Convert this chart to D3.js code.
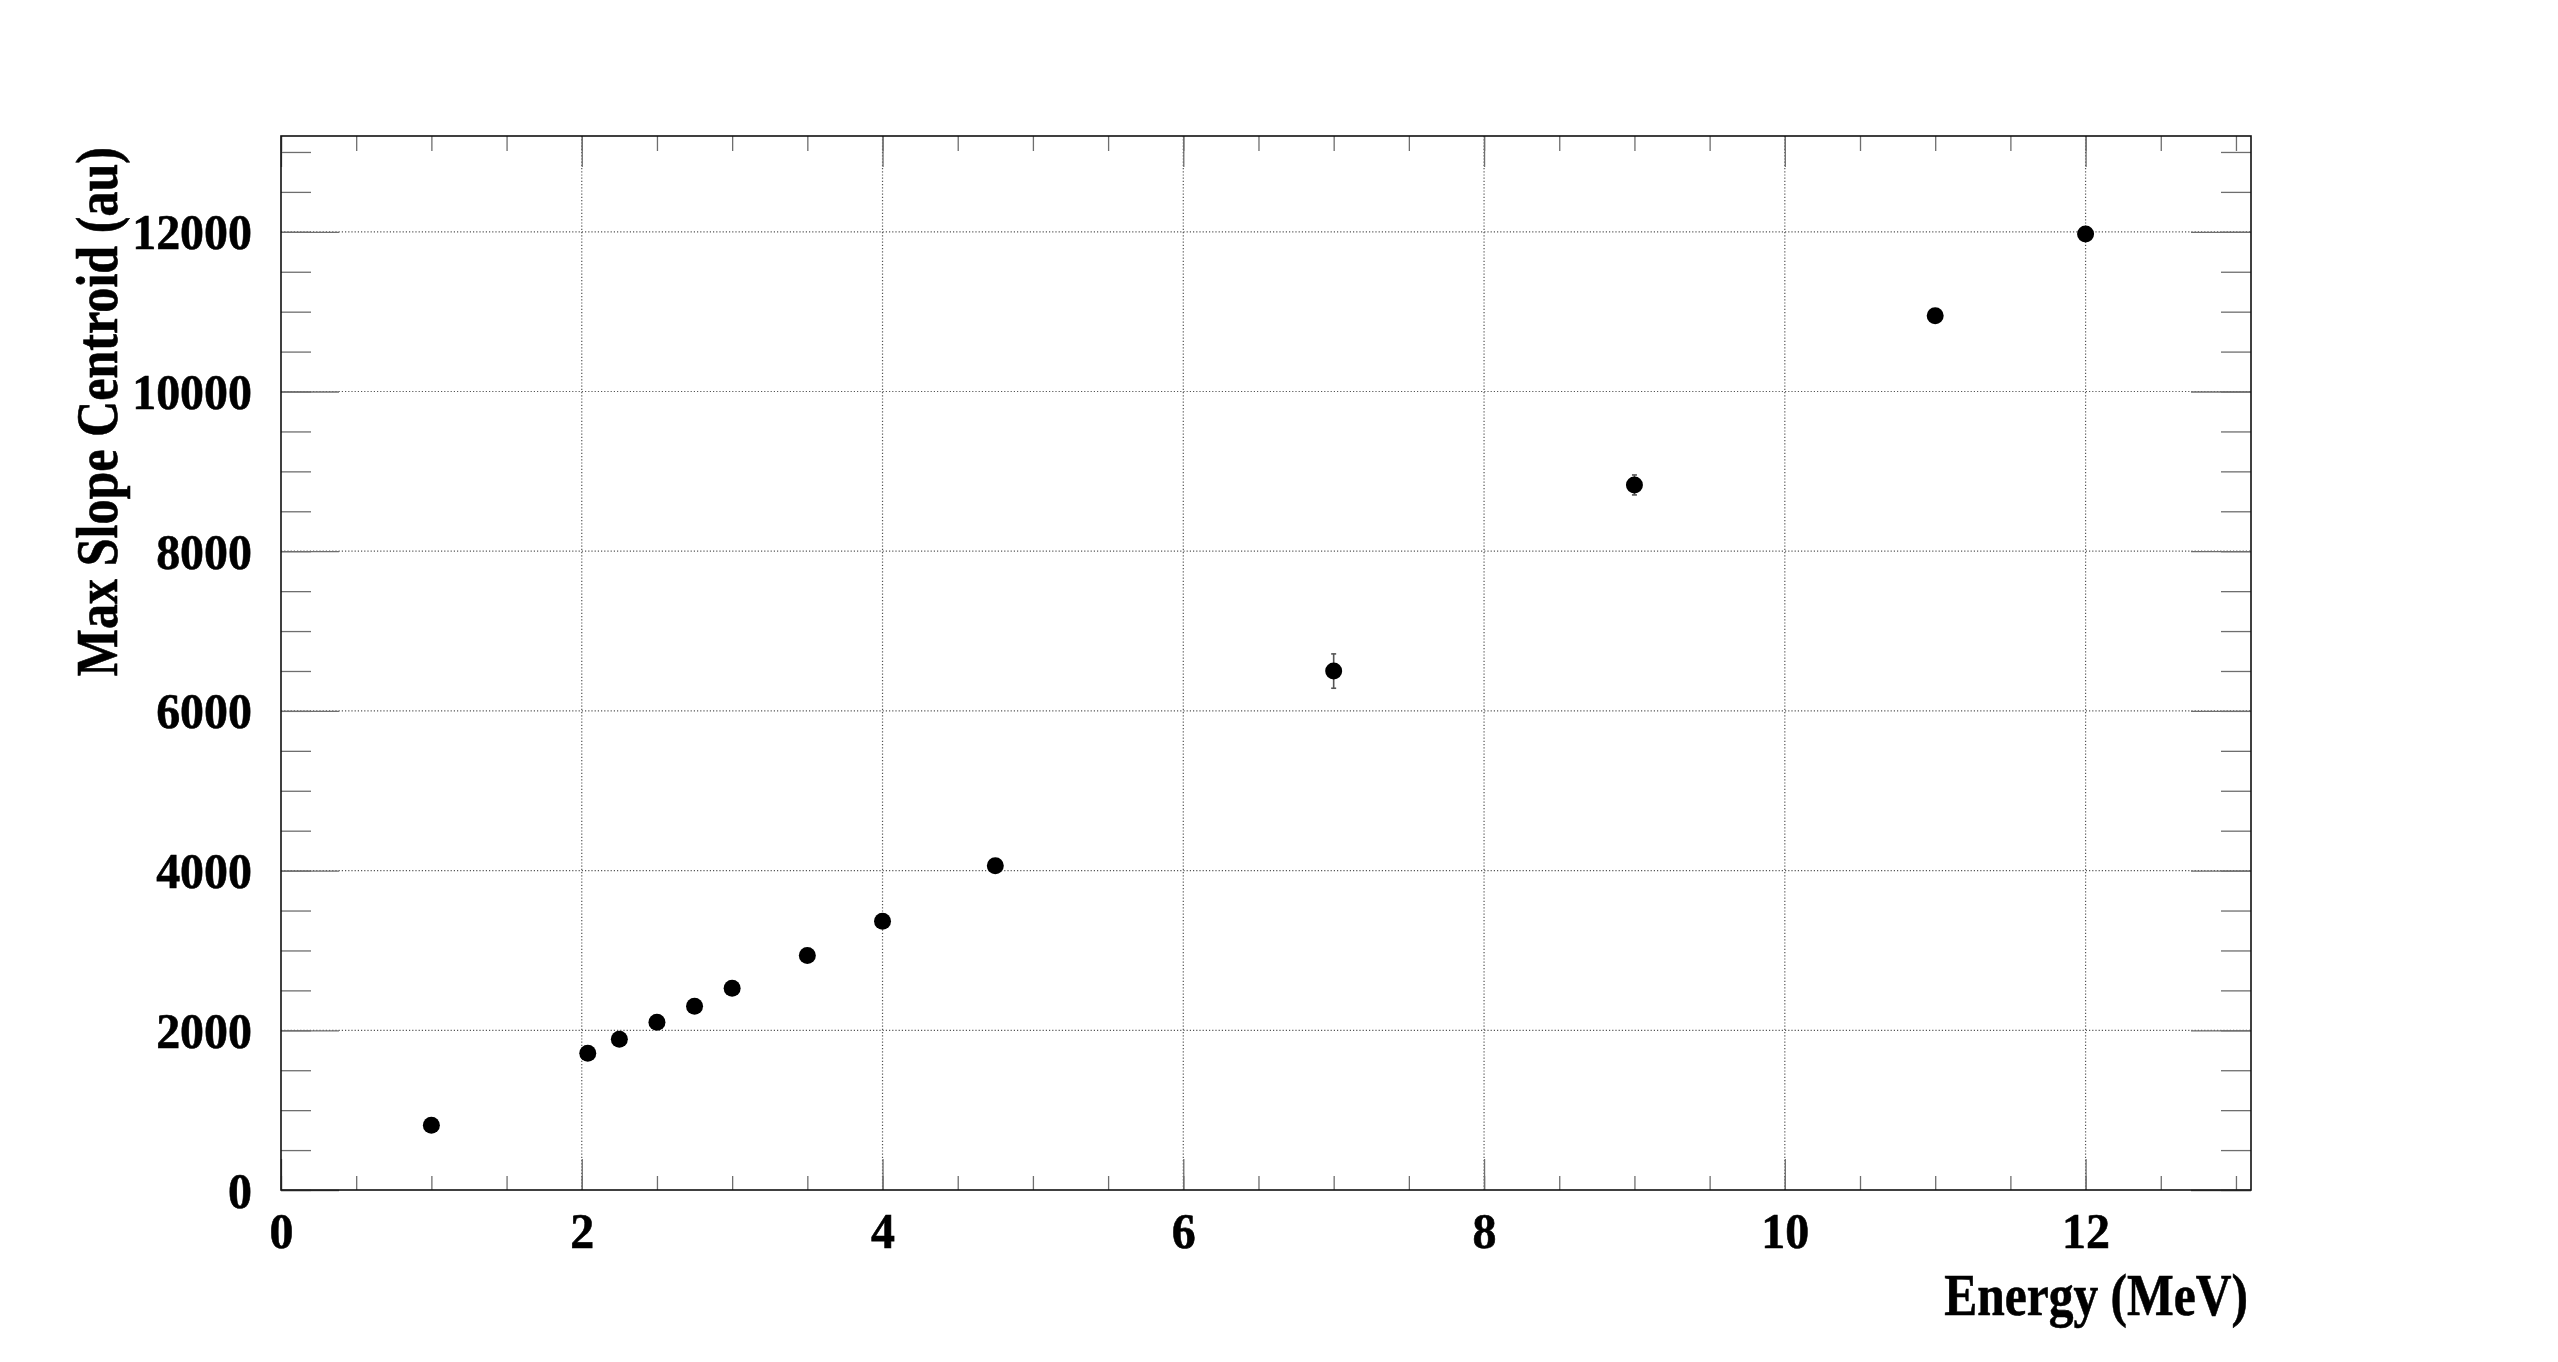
<!DOCTYPE html>
<html>
<head>
<meta charset="utf-8">
<script src="https://cdn.jsdelivr.net/npm/d3@7"></script>
<style>
  body { margin: 0; background: #fff; }
  text { font-family: "Liberation Serif", "Times New Roman", serif; font-weight: bold; fill: #000; stroke: #000; stroke-width: 0.6; }
</style>
</head>
<body>
<script>
// Données du graphique
const energies  = [1, 2.04, 2.25, 2.5, 2.75, 3, 3.5, 4, 4.75, 7, 9, 11, 12];
const centroids = [810, 1712, 1887, 2100, 2302, 2527, 2936, 3366, 4060, 6499, 8830, 10950, 11972];
const errors    = [30, 30, 30, 30, 30, 30, 40, 40, 50, 215, 125, 60, 60];
const xTicks = [0, 2, 4, 6, 8, 10, 12];
const yTicks = [0, 2000, 4000, 6000, 8000, 10000, 12000];
const xMinor = d3.range(0, 13.01, 0.5);
const yMinor = d3.range(0, 13001, 500);

const data = energies.map((e, i) => ({ x: e, y: centroids[i], err: errors[i] }));

// Dimensions (fenêtre 2558x1362)
const W = 2558, H = 1362;
const margin = { top: 136, right: 307, bottom: 172, left: 281 },
      width = W - margin.left - margin.right,
      height = H - margin.top - margin.bottom;

const sx = 0.94; // largeur des chiffres

const svg = d3.select("body").append("svg")
    .attr("width", W)
    .attr("height", H)
    .append("g")
    .attr("transform", `translate(${margin.left},${margin.top})`);

// Échelles
const x = d3.scaleLinear().domain([0, 13.1]).range([0, width]);
const y = d3.scaleLinear().domain([0, 13200]).range([height, 0]);

// Grille pointillée
svg.append("g").selectAll("line")
    .data(xTicks.filter(d => d > 0))
    .enter().append("line")
    .attr("x1", d => x(d)).attr("x2", d => x(d))
    .attr("y1", 0).attr("y2", height)
    .attr("stroke", "#555").attr("stroke-width", 1.2)
    .attr("stroke-dasharray", "1.2,2");

svg.append("g").selectAll("line")
    .data(yTicks.filter(d => d > 0))
    .enter().append("line")
    .attr("x1", 0).attr("x2", width)
    .attr("y1", d => y(d)).attr("y2", d => y(d))
    .attr("stroke", "#555").attr("stroke-width", 1.2)
    .attr("stroke-dasharray", "1.2,2");

// Graduations (sur les quatre côtés)
function ticks(axis, transform) {
    const g = svg.append("g").attr("transform", transform).call(axis);
    g.select(".domain").remove();
    g.selectAll(".tick line").attr("stroke", "#6e6e6e").attr("stroke-width", 1.3);
    return g;
}

ticks(d3.axisBottom(x).tickValues(xMinor).tickSize(-14).tickFormat(""), `translate(0,${height})`);
ticks(d3.axisTop(x).tickValues(xMinor).tickSize(-15).tickFormat(""), "translate(0,0)");
ticks(d3.axisTop(x).tickValues(xTicks).tickSize(-31).tickFormat(""), "translate(0,0)");
ticks(d3.axisLeft(y).tickValues(yMinor).tickSize(-30).tickFormat(""), "translate(0,0)");
ticks(d3.axisRight(y).tickValues(yMinor).tickSize(-30).tickFormat(""), `translate(${width},0)`);
ticks(d3.axisRight(y).tickValues(yTicks).tickSize(-60).tickFormat(""), `translate(${width},0)`);

const xAxis = ticks(d3.axisBottom(x).tickValues(xTicks).tickSize(-31).tickFormat(d3.format("d")),
    `translate(0,${height})`);
xAxis.selectAll("text")
    .attr("y", 58).attr("dy", null)
    .attr("font-size", 51)
    .attr("transform", `scale(${sx},1)`);

const yAxis = ticks(d3.axisLeft(y).tickValues(yTicks).tickSize(-58).tickFormat(d3.format("d")),
    "translate(0,0)");
yAxis.selectAll("text")
    .attr("x", 0).attr("dy", null).attr("y", 17)
    .attr("font-size", 51)
    .attr("transform", `translate(-29,0) scale(${sx},1)`);

// Cadre
svg.append("rect")
    .attr("width", width).attr("height", height)
    .attr("fill", "none").attr("stroke", "#111").attr("stroke-width", 1.6);

// Barres d'erreur
const eb = svg.append("g").attr("stroke", "#555").attr("stroke-width", 1.6);
eb.selectAll(".ebar")
    .data(data)
    .enter().append("line")
    .attr("class", "ebar")
    .attr("x1", d => x(d.x)).attr("x2", d => x(d.x))
    .attr("y1", d => y(d.y - d.err)).attr("y2", d => y(d.y + d.err));
eb.selectAll(".cap")
    .data(data.flatMap(d => [{ x: d.x, y: d.y - d.err }, { x: d.x, y: d.y + d.err }]))
    .enter().append("line")
    .attr("class", "cap")
    .attr("x1", d => x(d.x) - 2.5).attr("x2", d => x(d.x) + 2.5)
    .attr("y1", d => y(d.y)).attr("y2", d => y(d.y));

// Points
svg.selectAll(".pt")
    .data(data)
    .enter().append("circle")
    .attr("class", "pt")
    .attr("cx", d => x(d.x))
    .attr("cy", d => y(d.y))
    .attr("r", 8.5)
    .attr("fill", "#000");

// Titres des axes
svg.append("text")
    .attr("text-anchor", "end")
    .attr("font-size", 60)
    .attr("transform", `translate(${width - 3},${height + 125}) scale(0.825,1)`)
    .text("Energy (MeV)");

svg.append("text")
    .attr("text-anchor", "end")
    .attr("font-size", 60)
    .attr("transform", `translate(${117 - margin.left},${147 - margin.top}) rotate(-90) scale(0.835,1)`)
    .text("Max Slope Centroid (au)");
</script>
</body>
</html>
